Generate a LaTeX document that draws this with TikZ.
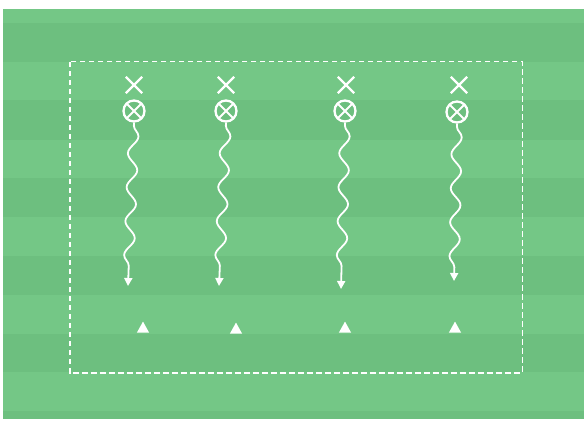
\documentclass[tikz,border=0pt]{standalone}
\usetikzlibrary{shapes.misc,shapes.geometric,decorations.pathmorphing,arrows.meta}
\definecolor{pitchlight}{RGB}{116,199,134}
\definecolor{pitchdark}{RGB}{109,191,127}
\tikzset{
  xmark/.style={cross out,draw=white,line width=2.3pt,minimum size=14pt,inner sep=0pt},
  omark/.style={circle,draw=white,line width=2.3pt,minimum size=21pt,inner sep=0pt,
    path picture={\draw[white,line width=2.1pt] (path picture bounding box.north west) -- (path picture bounding box.south east)
      (path picture bounding box.north east) -- (path picture bounding box.south west);}},
  cone/.style={isosceles triangle,isosceles triangle apex angle=58,shape border rotate=90,fill=white,
    minimum height=11pt,minimum width=11pt,inner sep=0pt},
  wave/.style={white,line width=1.8pt,decorate,
    decoration={snake,amplitude=5pt,segment length=34pt,pre length=3pt,post length=7pt},
    -{Triangle[width=8pt,length=8pt]}},
  area/.style={white,line width=1.4pt,dash pattern=on 5.5pt off 3.5pt}
}
\begin{document}
\begin{tikzpicture}[x=1pt,y=-1pt]
\useasboundingbox (0,0) rectangle (587,422);
\fill[white] (0,0) rectangle (587,422);
\fill[pitchdark] (3,9) rectangle (584,419);
\foreach \a/\b in {9/23,62/100,140/178,217/256,295/334,372/411}
  \fill[pitchlight] (3,\a) rectangle (584,\b);
\node[draw=none,minimum width=452pt,minimum height=311pt,inner sep=0pt] (zone) at (296,217.5) {};
\draw[area] (zone.north west) rectangle (zone.south east);
\foreach \i/\xx/\ox/\oy/\ex/\ey/\cx/\cy in {1/134/134/111/128/286/143/329,2/226/226/111/219/286/236/330,3/346/345/111/341/289/345/329,4/459/457/112/454/281/455/329}{
  \node[xmark] (x\i) at (\xx,85) {};
  \node[omark] (o\i) at (\ox,\oy) {};
  \coordinate (e\i) at (\ex,\ey);
  \draw[wave] (o\i.south) -- (e\i);
  \node[cone] (c\i) at (\cx,\cy) {};
}
\end{tikzpicture}
\end{document}
